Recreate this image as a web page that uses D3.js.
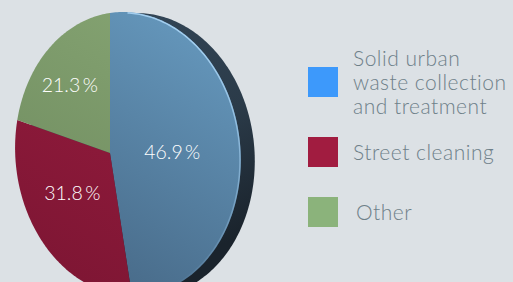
<!DOCTYPE html>
<html>
<head>
<meta charset="utf-8">
<script src="https://cdn.jsdelivr.net/npm/d3@7"></script>
<style>
  body { margin: 0; background: #dce1e5; }
  svg { display: block; }
</style>
</head>
<body>
<div id="chart"></div>
<script>
// data
const categories = ["Solid urban waste collection and treatment", "Street cleaning", "Other"];
const legendLines = [["Solid urban", "waste collection", "and treatment"], ["Street cleaning"], ["Other"]];
const values = [46.9, 31.8, 21.3];
const faceLight = ["#6699be", "#9a1d40", "#86a573"];
const faceDark = ["#476987", "#7f1634", "#6f8b5f"];
const legendColors = ["#3d99fb", "#a11c40", "#8bb37b"];

const width = 513, height = 282;
const svg = d3.select("#chart").append("svg")
    .attr("width", width)
    .attr("height", height);

// tilted disk: simple perspective projection of a unit circle
const cx = 110, cy = 153, a = 110, b = 140, k = 0.159, s = 6;
function project(X, Y) {
    const w = 1 - k * X;
    return [cx + a * X / w, cy + (b * Y + s * X) / w];
}
function ptAt(angle, r) {
    return project(r * Math.sin(angle), -r * Math.cos(angle));
}

const defs = svg.append("defs");

const rimGrad = defs.append("linearGradient").attr("id", "rim")
    .attr("x1", 0).attr("y1", 0).attr("x2", 0.4).attr("y2", 1);
rimGrad.append("stop").attr("offset", 0).attr("stop-color", "#35495b");
rimGrad.append("stop").attr("offset", 0.6).attr("stop-color", "#2b3b49");
rimGrad.append("stop").attr("offset", 1).attr("stop-color", "#1a232c");

faceLight.forEach((c, i) => {
    const g = defs.append("linearGradient").attr("id", "face" + i)
        .attr("gradientUnits", "userSpaceOnUse")
        .attr("x1", 230).attr("y1", 30).attr("x2", 80).attr("y2", 280);
    g.append("stop").attr("offset", 0).attr("stop-color", c);
    g.append("stop").attr("offset", 1).attr("stop-color", faceDark[i]);
});

const edgeGrad = defs.append("linearGradient").attr("id", "edge")
    .attr("gradientUnits", "userSpaceOnUse")
    .attr("x1", 240).attr("y1", 60).attr("x2", 150).attr("y2", 280);
edgeGrad.append("stop").attr("offset", 0).attr("stop-color", "#a9d4f5").attr("stop-opacity", 0.9);
edgeGrad.append("stop").attr("offset", 1).attr("stop-color", "#a9d4f5").attr("stop-opacity", 0);

const line = d3.line();
const steps = d3.range(0, 361).map(d => d * Math.PI / 180);
const outline = steps.map(t => ptAt(t, 1));

// rim (back face shifted right)
svg.append("path")
    .attr("d", line(outline.map(p => [p[0] + 14, p[1] + 1])) + "Z")
    .attr("fill", "url(#rim)");

// slices
const pie = d3.pie().sort(null).value(d => d);
const arcs = pie(values);

svg.selectAll(".slice")
    .data(arcs)
    .enter().append("path")
    .attr("class", "slice")
    .attr("d", d => {
        const n = Math.max(2, Math.ceil((d.endAngle - d.startAngle) * 60));
        const pts = [[cx, cy]];
        for (let i = 0; i <= n; i++) {
            pts.push(ptAt(d.startAngle + (d.endAngle - d.startAngle) * i / n, 1));
        }
        return line(pts) + "Z";
    })
    .attr("fill", (d, i) => "url(#face" + i + ")");

// light bevel along the right edge
svg.append("path")
    .attr("d", line(steps.filter(t => t > 0.15 && t < 2.6).map(t => ptAt(t, 0.995))))
    .attr("fill", "none")
    .attr("stroke", "url(#edge)")
    .attr("stroke-width", 1.5);

// value labels
const labelNudge = [[-5, 5], [4, -8], [-4, -7]];
svg.selectAll(".val")
    .data(arcs)
    .enter().append("text")
    .attr("class", "val")
    .attr("x", (d, i) => ptAt((d.startAngle + d.endAngle) / 2, 0.56)[0] + labelNudge[i][0])
    .attr("y", (d, i) => ptAt((d.startAngle + d.endAngle) / 2, 0.56)[1] + 6 + labelNudge[i][1])
    .attr("text-anchor", "middle")
    .attr("fill", "#ffffff")
    .style("font-family", "Lato, sans-serif")
    .style("font-weight", 300)
    .style("font-size", "19.5px")
    .text(d => d.data.toFixed(1) + "\u2009%");

// legend
const legendTop = [67, 137, 197];
const legend = svg.selectAll(".legend")
    .data(categories)
    .enter().append("g")
    .attr("class", "legend")
    .attr("transform", (d, i) => "translate(308," + legendTop[i] + ")");

legend.append("rect")
    .attr("width", 30)
    .attr("height", 30)
    .attr("fill", (d, i) => legendColors[i]);

legend.each(function (d, i) {
    const lines = legendLines[i];
    const g = d3.select(this);
    const t = g.append("text")
        .attr("fill", "#6e8089")
        .style("font-family", "Lato, sans-serif")
        .style("font-weight", 300)
        .style("font-size", "21px")
        .style("letter-spacing", "0.5px");
    const y0 = lines.length === 1 ? 23 : -1;
    lines.forEach((l, j) => {
        t.append("tspan")
            .attr("x", i === 2 ? 48 : 45)
            .attr("y", y0 + j * 24)
            .text(l);
    });
});
</script>
</body>
</html>
